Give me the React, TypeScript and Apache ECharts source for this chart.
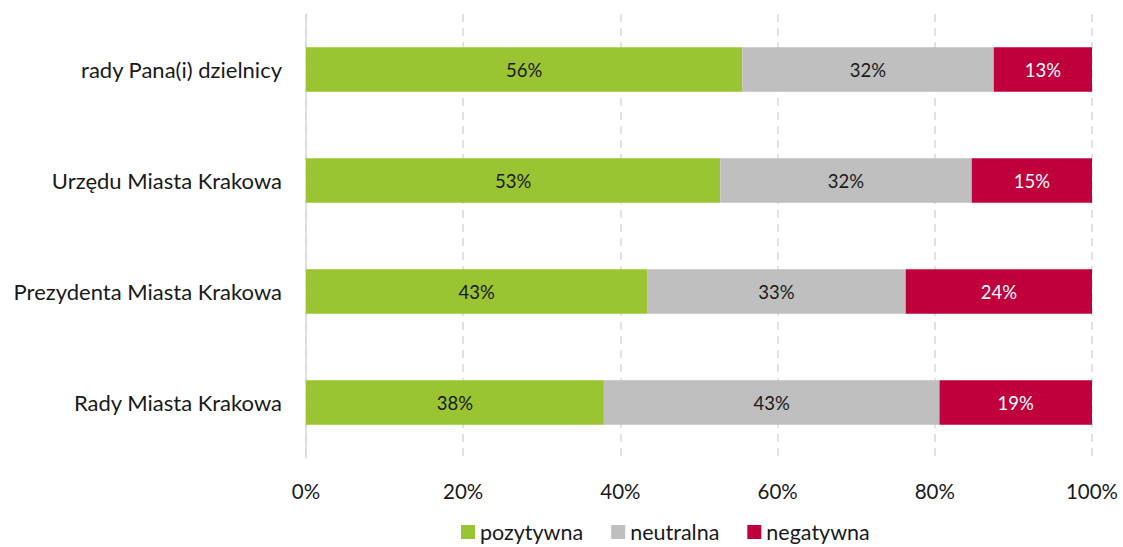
import React, { useEffect, useRef } from "react";
import * as echarts from "echarts";

const categories = [
  "Rady Miasta Krakowa",
  "Prezydenta Miasta Krakowa",
  "Urzędu Miasta Krakowa",
  "rady Pana(i) dzielnicy",
];
const pozytywna = [37.9, 43.4, 52.7, 55.5];
const neutralna = [42.7, 32.9, 32.0, 32.0];
const negatywna = [19.4, 23.7, 15.3, 12.5];
const seriesNames = ["pozytywna", "neutralna", "negatywna"];
const colors = ["#9BC432", "#BFBFBF", "#C0003C"];
const labelColors = ["#1a1a1a", "#1a1a1a", "#ffffff"];
const xTicks = [0, 20, 40, 60, 80, 100];

const FONT = "Lato, 'Noto Sans', sans-serif";

export default function App() {
  const ref = useRef<HTMLDivElement>(null);
  useEffect(() => {
    if (!ref.current) return;
    const chart = echarts.init(ref.current, null, { renderer: "svg" });
    const dataSets = [pozytywna, neutralna, negatywna];
    chart.setOption({
      animation: false,
      textStyle: { fontFamily: FONT },
      grid: { left: 306, right: 31, top: 14, bottom: 89, containLabel: false },
      legend: {
        top: 521,
        left: 461,
        padding: 0,
        itemWidth: 14,
        itemHeight: 14,
        itemGap: 28,
        icon: "rect",
        textStyle: { fontSize: 21.5, color: "#1a1a1a", fontFamily: FONT },
        data: seriesNames,
      },
      xAxis: {
        type: "value",
        min: xTicks[0],
        max: xTicks[xTicks.length - 1],
        interval: 20,
        axisLine: { show: false },
        axisTick: { show: false },
        axisLabel: {
          formatter: (v: number) => `${v}%`,
          fontSize: 20.5,
          color: "#1a1a1a",
          margin: 22,
          fontFamily: FONT,
        },
        splitLine: {
          show: true,
          lineStyle: { color: "#D9D9D9", type: [8, 6], width: 1.5 },
        },
      },
      yAxis: {
        type: "category",
        data: categories,
        axisLine: { show: true, lineStyle: { color: "#D9D9D9", width: 1.5 } },
        axisTick: { show: false },
        axisLabel: { fontSize: 22, color: "#1a1a1a", margin: 24, fontFamily: FONT },
      },
      series: dataSets.map((d, i) => ({
        name: seriesNames[i],
        type: "bar",
        stack: "total",
        barWidth: "40%",
        data: d,
        itemStyle: { color: colors[i] },
        label: {
          show: true,
          position: "inside",
          formatter: (p: any) => `${Math.round(p.value)}%`,
          color: labelColors[i],
          fontSize: 18.5,
          fontFamily: FONT,
        },
      })),
    });
    return () => chart.dispose();
  }, []);
  return (
    <div
      ref={ref}
      style={{ position: "fixed", left: 0, top: 0, width: 1123, height: 547, background: "#fff" }}
    />
  );
}
